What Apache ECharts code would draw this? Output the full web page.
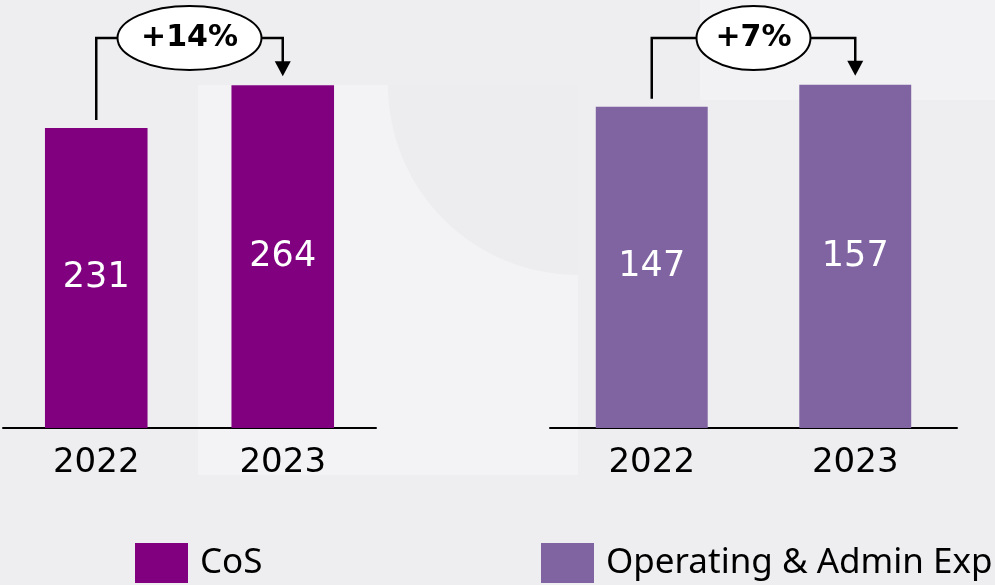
<!DOCTYPE html>
<html>
<head>
<meta charset="utf-8">
<script src="https://cdn.jsdelivr.net/npm/echarts@6/dist/echarts.min.js"></script>
<style>
  html, body { margin: 0; padding: 0; background: #eeeef1; }
  #chart { width: 995px; height: 585px; }
</style>
</head>
<body>
<div id="chart"></div>
<script>
const years = ['2022', '2023']
const cosValues = [231, 264]
const opexValues = [147, 157]
const changeLabels = ['+14%', '+7%']
const seriesNames = ['CoS', 'Operating & Admin Exp']

const FONT = 'Noto Sans'
const NUM_FONT = 'DejaVu Sans'
const colors = ['#800080', '#8064a2']

let chart = echarts.init(document.getElementById('chart'))

function xAxisFor (gridIndex) {
  return {
    type: 'category',
    gridIndex: gridIndex,
    data: years,
    axisTick: { show: false },
    axisLine: { lineStyle: { color: '#000', width: 2 } },
    axisLabel: { color: '#000', fontSize: 34, fontFamily: NUM_FONT, margin: 18 }
  }
}

function yAxisFor (gridIndex, max) {
  return {
    type: 'value',
    gridIndex: gridIndex,
    min: 0,
    max: max,
    show: false,
    splitLine: { show: false }
  }
}

function barSeries (i, values) {
  return {
    name: seriesNames[i],
    type: 'bar',
    xAxisIndex: i,
    yAxisIndex: i,
    data: values,
    barWidth: '55%',
    itemStyle: { color: colors[i] },
    label: {
      show: true,
      position: 'inside',
      color: '#fff',
      fontSize: 35,
      fontFamily: NUM_FONT
    }
  }
}

function legendFor (i, left) {
  return {
    data: [seriesNames[i]],
    left: left,
    top: 543,
    padding: 0,
    itemWidth: 53,
    itemHeight: 40,
    icon: 'rect',
    textStyle: { fontSize: 35, fontFamily: FONT, color: '#000', padding: [0, 0, 0, 7] }
  }
}

let option = {
  backgroundColor: '#eeeef1',
  animation: false,
  grid: [
    { left: 3, top: 28, width: 373, height: 400 },
    { left: 550, top: 28, width: 407, height: 400 }
  ],
  xAxis: [xAxisFor(0), xAxisFor(1)],
  yAxis: [yAxisFor(0, 308), yAxisFor(1, 183)],
  legend: [legendFor(0, 135), legendFor(1, 541)],
  series: [barSeries(0, cosValues), barSeries(1, opexValues)]
}

chart.setOption(option)

// faint background decoration
let graphics = [
  {
    type: 'rect',
    shape: { x: 198, y: 85, width: 380, height: 390 },
    style: { fill: '#f3f3f5' },
    z: -10
  },
  {
    type: 'sector',
    shape: { cx: 578, cy: 85, r: 190, startAngle: Math.PI / 2, endAngle: Math.PI },
    style: { fill: '#ededf0' },
    z: -9
  },
  {
    type: 'rect',
    shape: { x: 700, y: 0, width: 295, height: 100 },
    style: { fill: '#f2f2f4' },
    z: -10
  }
]

// brackets with the growth bubble, placed from the bar positions
;[cosValues, opexValues].forEach((vals, i) => {
  let p0 = chart.convertToPixel({ seriesIndex: i }, [0, vals[0]])
  let p1 = chart.convertToPixel({ seriesIndex: i }, [1, vals[1]])
  let yTop = 38
  let rx = i === 0 ? 72 : 57
  let ry = 32
  let cx = (p0[0] + p1[0]) / 2
  graphics.push({
    type: 'polyline',
    shape: { points: [[p0[0], p0[1] - 8], [p0[0], yTop], [cx - rx, yTop]] },
    style: { stroke: '#000', lineWidth: 2.5, fill: null }
  })
  graphics.push({
    type: 'polyline',
    shape: { points: [[cx + rx, yTop], [p1[0], yTop], [p1[0], p1[1] - 22]] },
    style: { stroke: '#000', lineWidth: 2.5, fill: null }
  })
  graphics.push({
    type: 'polygon',
    shape: { points: [[p1[0] - 8, p1[1] - 24], [p1[0] + 8, p1[1] - 24], [p1[0], p1[1] - 9]] },
    style: { fill: '#000' }
  })
  graphics.push({
    type: 'ellipse',
    shape: { cx: cx, cy: yTop, rx: rx, ry: ry },
    style: { fill: '#fff', stroke: '#000', lineWidth: 2 },
    z: 10
  })
  graphics.push({
    type: 'text',
    x: cx,
    y: yTop,
    style: {
      text: changeLabels[i],
      fontSize: 30,
      fontWeight: 'bold',
      fontFamily: NUM_FONT,
      fill: '#000',
      align: 'center',
      verticalAlign: 'middle'
    },
    z: 11
  })
})
chart.setOption({ graphic: graphics })
</script>
</body>
</html>
